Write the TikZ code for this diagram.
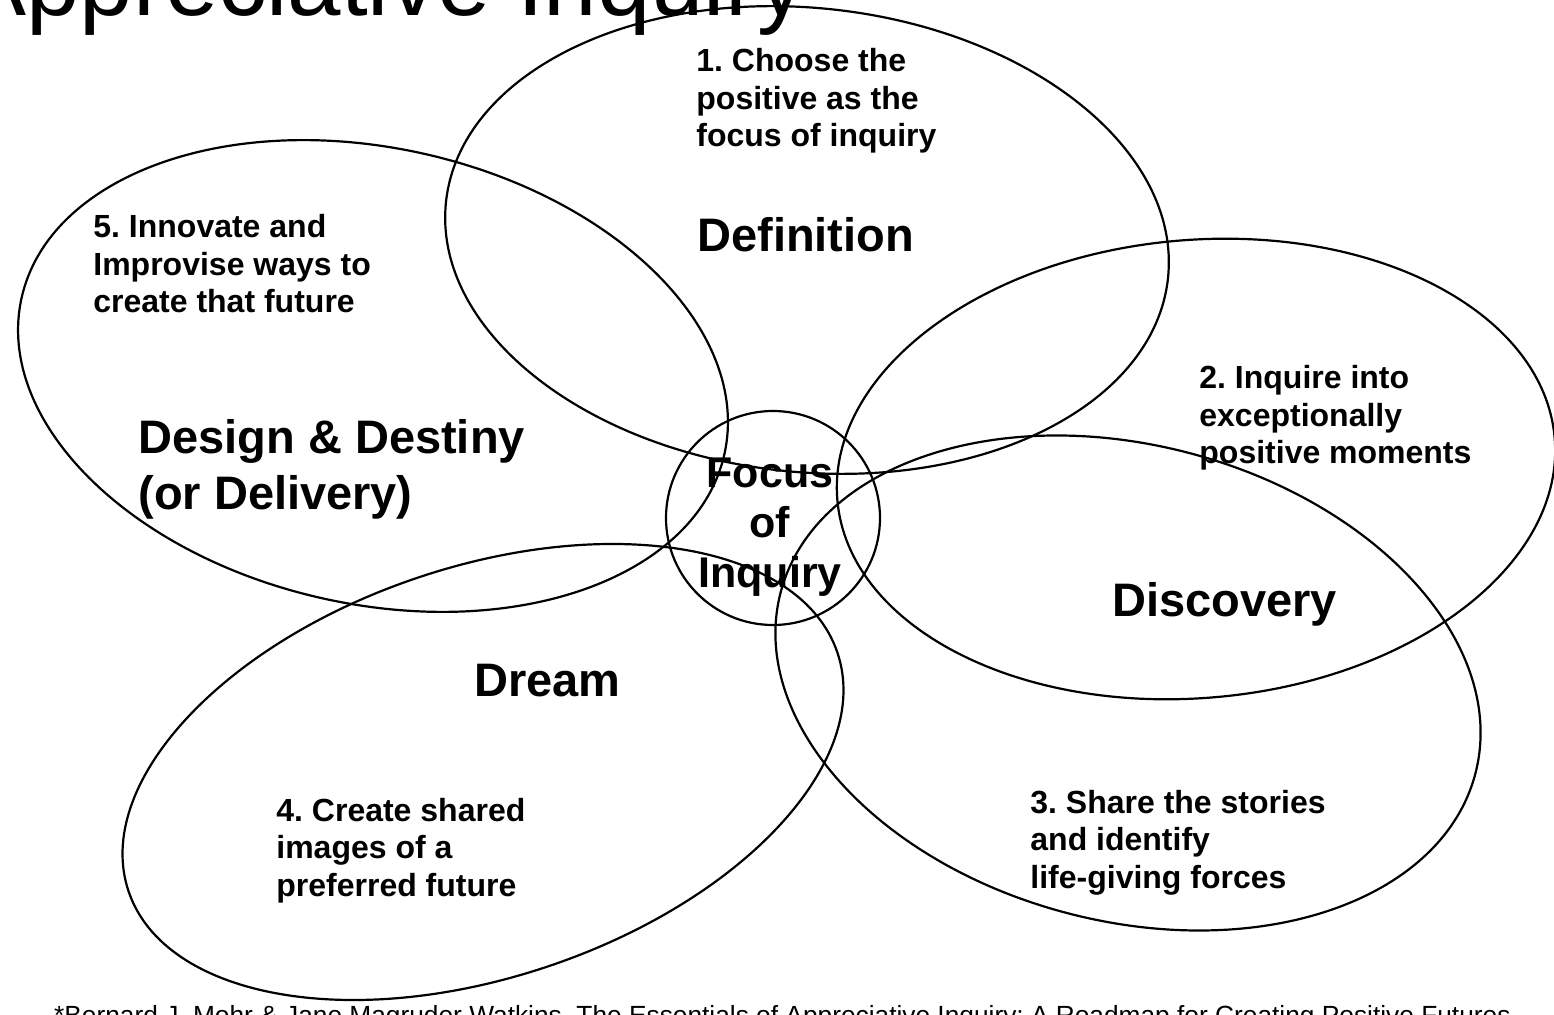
\documentclass[tikz,border=0pt]{standalone}
\usepackage{fontspec}
\setmainfont{Liberation Sans}
\begin{document}
\frenchspacing
\begin{tikzpicture}[x=0.5pt,y=-0.5pt,
  petal/.style={draw=black, line width=1.1pt},
  % multi-line nodes: the base anchor sits on the last line
  note/.style={font=\fontsize{16}{18.75}\selectfont\bfseries, align=left, anchor=base west, inner sep=0pt},
  phase/.style={font=\fontsize{23.5}{28}\selectfont\bfseries, align=left, anchor=base west, inner sep=0pt},
]
\useasboundingbox (0,0) rectangle (1554,1015);

% title
\node[font=\fontsize{48}{56}\selectfont, anchor=base west, inner sep=0pt] (title) at (-38,16) {Appreciative Inquiry};

% the five overlapping petals
\draw[petal, rotate around={-6:(807,240)}] (807,240) ellipse [x radius=363, y radius=232];      % Definition
\draw[petal, rotate around={-12.5:(373,376)}] (373,376) ellipse [x radius=360, y radius=228];   % Design & Destiny
\draw[petal, rotate around={18.6:(483,772)}] (483,772) ellipse [x radius=374, y radius=205];    % Dream
\draw[petal, rotate around={5:(1196,469)}] (1196,469) ellipse [x radius=360, y radius=229];     % Inquire
\draw[petal, rotate around={-14.6:(1128,683)}] (1128,683) ellipse [x radius=359, y radius=238]; % Share

% centre
\node[petal, circle, minimum size=107pt, inner sep=0pt] (focus) at (773,518) {};
\node[font=\fontsize{21.5}{25}\selectfont\bfseries, align=center, anchor=base, inner sep=0pt] (focustext) at (770,588) {Focus\\of\\Inquiry};

% phase names
\node[phase] (definition) at (697,252) {Definition};
\node[phase] (design) at (138,510) {Design \& Destiny\\(or Delivery)};
\node[phase] (discovery) at (1112,617) {Discovery};
\node[phase] (dream) at (474,697) {Dream};

% step notes
\node[note] (n1) at (696,147) {1. Choose the\\positive as the\\focus of inquiry};
\node[note] (n2) at (1199,464) {2. Inquire into\\exceptionally\\positive moments};
\node[note] (n3) at (1030,888) {3. Share the stories\\and identify\\life-giving forces};
\node[note] (n4) at (276,896) {4. Create shared\\images of a\\preferred future};
\node[note] (n5) at (93,313) {5. Innovate and\\Improvise ways to\\create that future};

% source line
\node[font=\fontsize{13.15}{15}\selectfont, anchor=base east, inner sep=0pt] (source) at (1511,1024)
  {*Bernard J. Mohr \& Jane Magruder Watkins, The Essentials of Appreciative Inquiry: A Roadmap for Creating Positive Futures};
\end{tikzpicture}
\end{document}
